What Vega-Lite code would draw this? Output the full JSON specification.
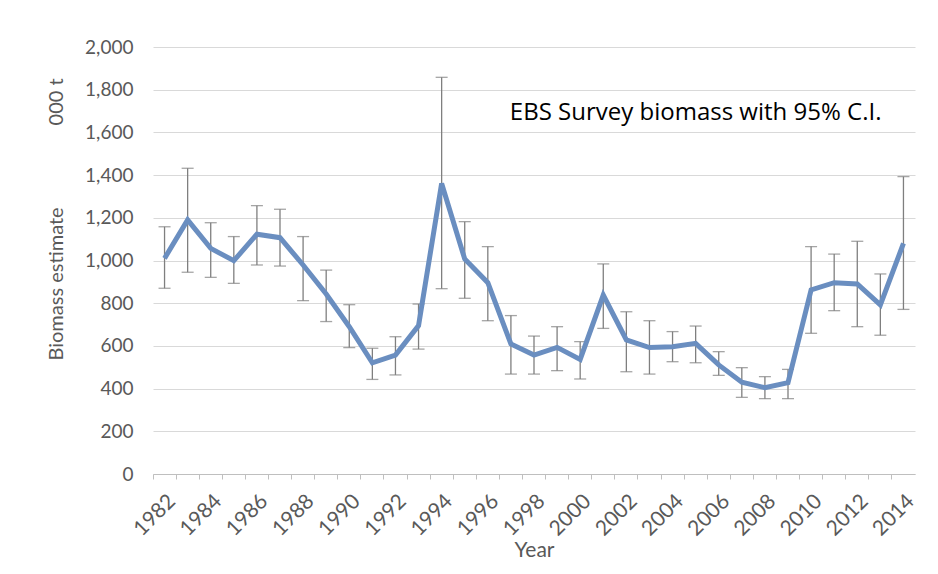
{
  "$schema": "https://vega.github.io/schema/vega-lite/v6.json",
  "autosize": "none",
  "width": 762,
  "height": 427,
  "padding": {"left": 153, "top": 47, "right": 23, "bottom": 100},
  "background": "white",
  "config": {
    "view": {"stroke": null},
    "font": "Lato"
  },
  "datasets": {
    "survey": [
      {"year": 1982, "est": 1010, "lo": 870, "hi": 1158},
      {"year": 1983, "est": 1190, "lo": 945, "hi": 1432},
      {"year": 1984, "est": 1057, "lo": 921, "hi": 1177},
      {"year": 1985, "est": 999, "lo": 893, "hi": 1112},
      {"year": 1986, "est": 1123, "lo": 979, "hi": 1257},
      {"year": 1987, "est": 1107, "lo": 974, "hi": 1240},
      {"year": 1988, "est": 979, "lo": 812, "hi": 1112},
      {"year": 1989, "est": 843, "lo": 714, "hi": 955},
      {"year": 1990, "est": 690, "lo": 592, "hi": 793},
      {"year": 1991, "est": 521, "lo": 443, "hi": 589},
      {"year": 1992, "est": 557, "lo": 464, "hi": 643},
      {"year": 1993, "est": 695, "lo": 585, "hi": 796},
      {"year": 1994, "est": 1361, "lo": 868, "hi": 1858},
      {"year": 1995, "est": 1007, "lo": 823, "hi": 1182},
      {"year": 1996, "est": 896, "lo": 718, "hi": 1065},
      {"year": 1997, "est": 609, "lo": 468, "hi": 742},
      {"year": 1998, "est": 557, "lo": 468, "hi": 646},
      {"year": 1999, "est": 593, "lo": 484, "hi": 690},
      {"year": 2000, "est": 537, "lo": 445, "hi": 620},
      {"year": 2001, "est": 838, "lo": 682, "hi": 984},
      {"year": 2002, "est": 628, "lo": 479, "hi": 760},
      {"year": 2003, "est": 592, "lo": 468, "hi": 718},
      {"year": 2004, "est": 596, "lo": 526, "hi": 667},
      {"year": 2005, "est": 612, "lo": 521, "hi": 693},
      {"year": 2006, "est": 511, "lo": 462, "hi": 573},
      {"year": 2007, "est": 430, "lo": 359, "hi": 498},
      {"year": 2008, "est": 404, "lo": 353, "hi": 456},
      {"year": 2009, "est": 428, "lo": 353, "hi": 490},
      {"year": 2010, "est": 862, "lo": 659, "hi": 1065},
      {"year": 2011, "est": 896, "lo": 765, "hi": 1030},
      {"year": 2012, "est": 890, "lo": 690, "hi": 1090},
      {"year": 2013, "est": 792, "lo": 650, "hi": 937},
      {"year": 2014, "est": 1080, "lo": 771, "hi": 1393}
    ],
    "note": [
      {"year": 2005, "est": 1691, "label": "EBS Survey biomass with 95% C.I."}
    ]
  },
  "data": {"name": "survey"},
  "encoding": {
    "x": {
      "field": "year",
      "type": "ordinal",
      "scale": {"paddingInner": 0, "paddingOuter": 0},
      "axis": {
        "title": "Year",
        "titleFont": "Lato",
        "titleFontSize": 21,
        "titleFontWeight": "normal",
        "titleColor": "#595959",
        "titlePadding": 0,
        "labelAngle": -45,
        "labelFont": "Lato",
        "labelFontSize": 21,
        "labelColor": "#595959",
        "labelExpr": "datum.value % 2 == 0 ? datum.label : ''",
        "labelPadding": 11,
        "bandPosition": 0,
        "tickColor": "#bfbfbf",
        "tickSize": 5,
        "domainColor": "#bfbfbf",
        "domainWidth": 1,
        "grid": false
      }
    }
  },
  "layer": [
    {
      "mark": {"type": "rule", "color": "#7f7f7f", "strokeWidth": 1.3},
      "encoding": {
        "y": {
          "field": "lo",
          "type": "quantitative",
          "scale": {"domain": [0, 2000], "nice": false},
          "axis": {
            "values": [0, 200, 400, 600, 800, 1000, 1200, 1400, 1600, 1800, 2000],
            "format": ",d",
            "title": "Biomass estimate\u00a0\u00a0\u00a0\u00a0\u00a0\u00a0\u00a0\u00a0\u00a0\u00a0\u00a0\u00a0\u00a0\u00a0\u00a0\u00a0000\u00a0t",
            "titleFont": "Lato",
            "titleFontSize": 20,
            "titleFontWeight": "normal",
            "titleColor": "#595959",
            "titleAngle": -90,
            "titleAlign": "left",
            "titleBaseline": "middle",
            "titleX": -97,
            "titleY": 313,
            "labelFont": "Lato",
            "labelFontSize": 19,
            "labelColor": "#595959",
            "labelPadding": 20,
            "ticks": false,
            "domain": false,
            "grid": true,
            "gridColor": "#d9d9d9",
            "gridWidth": 1.2
          }
        },
        "y2": {"field": "hi"}
      }
    },
    {
      "mark": {"type": "tick", "color": "#7f7f7f", "thickness": 1.3, "size": 12},
      "encoding": {"y": {"field": "lo", "type": "quantitative"}}
    },
    {
      "mark": {"type": "tick", "color": "#7f7f7f", "thickness": 1.3, "size": 12},
      "encoding": {"y": {"field": "hi", "type": "quantitative"}}
    },
    {
      "mark": {"type": "line", "color": "#6a8ec0", "strokeWidth": 5, "strokeJoin": "miter"},
      "encoding": {"y": {"field": "est", "type": "quantitative"}}
    },
    {
      "data": {"name": "note"},
      "mark": {"type": "text", "font": "Open Sans", "fontSize": 24, "color": "#000000", "align": "center", "baseline": "middle"},
      "encoding": {
        "y": {"field": "est", "type": "quantitative"},
        "text": {"field": "label"}
      }
    }
  ]
}
